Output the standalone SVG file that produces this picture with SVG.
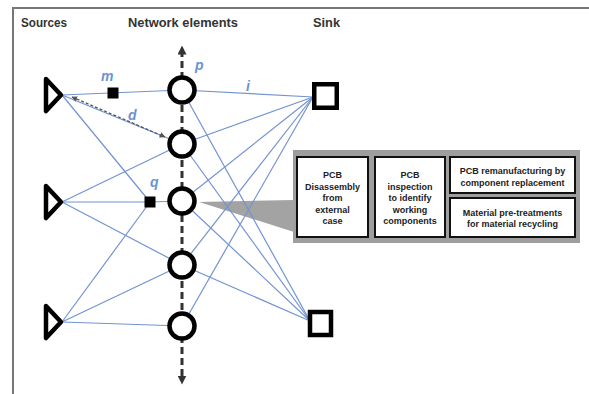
<svg xmlns="http://www.w3.org/2000/svg" width="589" height="394" viewBox="0 0 589 394">
<defs>
<style>
.hdr{font-family:"Liberation Sans",Arial,sans-serif;font-weight:bold;font-size:12px;fill:#333}
.lbl{font-family:"Liberation Sans",Arial,sans-serif;font-style:italic;font-weight:bold;font-size:14px;fill:#6a93d3}
.edge{stroke:#7393d2;stroke-width:1.2;fill:none}
.src{fill:none;stroke:#000;stroke-width:4.5;stroke-linejoin:round}
.ne{fill:#fff;stroke:#000;stroke-width:4.5}
.sink{fill:#fff;stroke:#000;stroke-width:4.5}
.sq{fill:#000}
.box{fill:#fff;stroke:#111;stroke-width:2}
.bt{font-family:"Liberation Sans",Arial,sans-serif;font-weight:bold;font-size:9px;fill:#222;text-anchor:middle}
.axis{stroke:#333;stroke-width:3;stroke-dasharray:7 4;fill:none}
.dist{stroke:#555;stroke-width:1.3;stroke-dasharray:3 2;fill:none}
</style>
<marker id="axh" viewBox="0 0 10 10" refX="5" refY="5" markerWidth="3" markerHeight="3" orient="auto-start-reverse" markerUnits="strokeWidth">
<path d="M0,0 L10,5 L0,10 z" fill="#333"/>
</marker>
<marker id="dh" viewBox="0 0 10 10" refX="9" refY="5" markerWidth="4.5" markerHeight="4.5" orient="auto-start-reverse" markerUnits="strokeWidth">
<path d="M0,0 L10,5 L0,10 z" fill="#555"/>
</marker>
</defs>
<rect width="589" height="394" fill="#fff"/>
<path d="M13,394 V8 H589" stroke="#777" stroke-width="2" fill="none"/>

<g id="headers">
<text class="hdr" x="21" y="27" textLength="46" lengthAdjust="spacingAndGlyphs">Sources</text>
<text class="hdr" x="128" y="27" textLength="110" lengthAdjust="spacingAndGlyphs">Network elements</text>
<text class="hdr" x="313" y="27" textLength="27" lengthAdjust="spacingAndGlyphs">Sink</text>
</g>

<g id="axis">
<line class="axis" x1="182" y1="50" x2="182" y2="380" marker-start="url(#axh)" marker-end="url(#axh)"/>
</g>

<g id="callout">
<rect x="293" y="150" width="287" height="93" fill="#9e9e9e"/>
<polygon points="199,202 294,200 294,232" fill="#a3a3a3"/>
</g>

<g id="connectors">
<line class="edge" x1="62" y1="95" x2="182" y2="90"/>
<line class="edge" x1="62" y1="95" x2="182" y2="144"/>
<line class="edge" x1="62" y1="95" x2="150" y2="202"/>
<line class="edge" x1="62" y1="202" x2="182" y2="144"/>
<line class="edge" x1="62" y1="202" x2="150" y2="202"/>
<line class="edge" x1="150" y1="202" x2="182" y2="201"/>
<line class="edge" x1="62" y1="202" x2="182" y2="265"/>
<line class="edge" x1="62" y1="322" x2="150" y2="202"/>
<line class="edge" x1="62" y1="322" x2="182" y2="265"/>
<line class="edge" x1="62" y1="322" x2="182" y2="326"/>
<line class="edge" x1="182" y1="90" x2="313" y2="97"/>
<line class="edge" x1="182" y1="144" x2="313" y2="97"/>
<line class="edge" x1="182" y1="201" x2="313" y2="97"/>
<line class="edge" x1="182" y1="265" x2="313" y2="97"/>
<line class="edge" x1="182" y1="326" x2="313" y2="97"/>
<line class="edge" x1="182" y1="90" x2="310" y2="321"/>
<line class="edge" x1="182" y1="144" x2="310" y2="321"/>
<line class="edge" x1="182" y1="201" x2="310" y2="321"/>
<line class="edge" x1="182" y1="265" x2="310" y2="321"/>
<line class="dist" x1="72" y1="97" x2="165" y2="137" marker-start="url(#dh)" marker-end="url(#dh)"/>
</g>

<g id="labels">
<text class="lbl" x="101" y="81">m</text>
<text class="lbl" x="195" y="70">p</text>
<text class="lbl" x="246" y="91">i</text>
<text class="lbl" x="128" y="120">d</text>
<text class="lbl" x="150" y="187">q</text>
</g>

<g id="source1"><polygon class="src" points="46,79 61,95 46,111"/></g>
<g id="source2"><polygon class="src" points="46,186 61,202 46,218"/></g>
<g id="source3"><polygon class="src" points="46,306 61,322 46,338"/></g>

<g id="node-m"><rect class="sq" x="107.5" y="87.5" width="11" height="11"/></g>
<g id="node-q"><rect class="sq" x="144.5" y="196.5" width="11" height="11"/></g>

<g id="element1"><circle class="ne" cx="182" cy="90" r="12.5"/></g>
<g id="element2"><circle class="ne" cx="182" cy="144" r="12.5"/></g>
<g id="element3"><circle class="ne" cx="182" cy="201" r="12.5"/></g>
<g id="element4"><circle class="ne" cx="182" cy="265" r="12.5"/></g>
<g id="element5"><circle class="ne" cx="182" cy="326" r="12.5"/></g>

<g id="sink1"><rect class="sink" x="314.25" y="84.25" width="22.5" height="23.5"/></g>
<g id="sink2"><rect class="sink" x="310" y="312" width="21" height="23"/></g>

<g id="box-disassembly">
<rect class="box" x="297" y="157" width="71" height="80"/>
<text class="bt" x="332.5" y="178">PCB</text>
<text class="bt" x="332.5" y="189.5">Disassembly</text>
<text class="bt" x="332.5" y="201">from</text>
<text class="bt" x="332.5" y="212.5">external</text>
<text class="bt" x="332.5" y="224">case</text>
</g>
<g id="box-inspection">
<rect class="box" x="375" y="157" width="70" height="80"/>
<text class="bt" x="410" y="178">PCB</text>
<text class="bt" x="410" y="189.5">inspection</text>
<text class="bt" x="410" y="201">to identify</text>
<text class="bt" x="410" y="212.5">working</text>
<text class="bt" x="410" y="224">components</text>
</g>
<g id="box-remanufacturing">
<rect class="box" x="450" y="157" width="125" height="36"/>
<text class="bt" x="512.5" y="174">PCB remanufacturing by</text>
<text class="bt" x="512.5" y="186">component replacement</text>
</g>
<g id="box-pretreatment">
<rect class="box" x="450" y="198" width="125" height="39"/>
<text class="bt" x="512.5" y="215.5">Material pre-treatments</text>
<text class="bt" x="512.5" y="227">for material recycling</text>
</g>
</svg>
